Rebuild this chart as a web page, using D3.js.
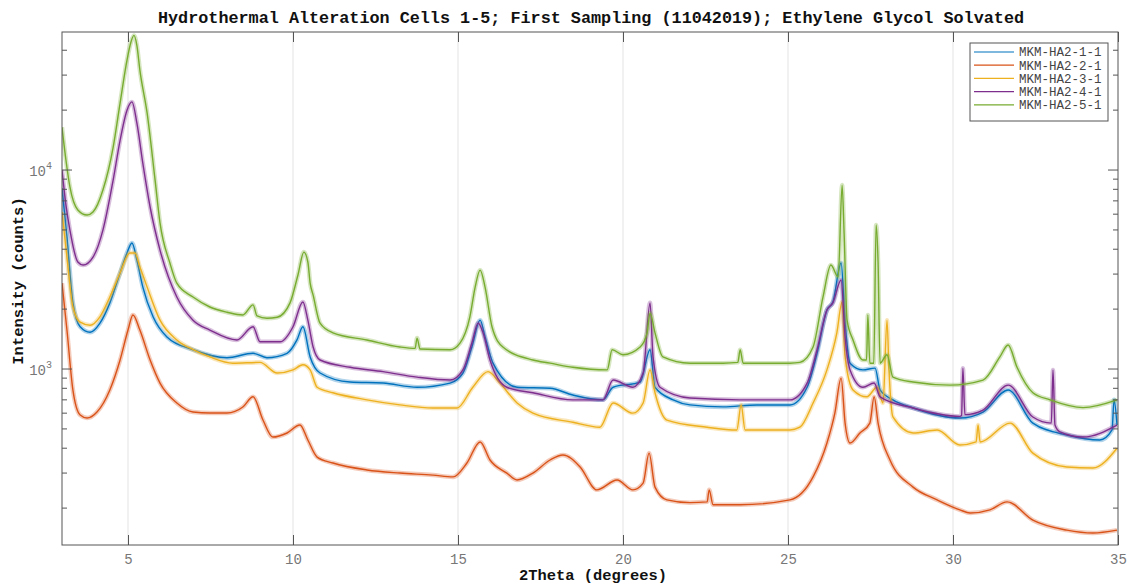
<!DOCTYPE html>
<html>
<head>
<meta charset="utf-8">
<script src="https://cdn.jsdelivr.net/npm/d3@7"></script>
<style>
  body { margin: 0; background: #fff; }
  text { font-family: "Liberation Mono", "DejaVu Sans Mono", monospace; }
</style>
</head>
<body>
<script>
const width = 1127;
const height = 585;
const margin = {top: 32, right: 9, bottom: 40, left: 62};
const innerW = width - margin.left - margin.right;
const innerH = height - margin.top - margin.bottom;

// series: [2theta, counts]
const ha1 = [[3.00,8100],[3.15,4610],[3.33,2150],[3.55,1630],[3.85,1530],[4.15,1700],[4.45,2150],[4.76,3040],[4.97,3830],[5.12,4300],[5.27,3530],[5.45,2580],[5.76,1830],[6.18,1450],[6.97,1250],[8.00,1140],[8.79,1200],[9.21,1140],[9.82,1200],[10.12,1400],[10.30,1630],[10.52,1150],[10.82,955],[11.73,860],[12.73,850],[13.76,810],[14.76,850],[15.15,955],[15.42,1290],[15.67,1760],[15.82,1450],[16.06,1070],[16.79,810],[17.79,800],[18.48,740],[19.39,700],[19.70,810],[20.52,860],[20.82,1250],[20.97,810],[21.52,700],[22.03,660],[23.03,645],[24.06,660],[25.06,660],[25.58,810],[25.88,1200],[26.18,1980],[26.36,2170],[26.61,3410],[26.73,1700],[26.88,1070],[27.27,990],[27.64,1010],[27.79,785],[28.18,700],[28.79,637],[30.21,567],[30.91,608],[31.67,785],[32.42,535],[33.45,466],[34.45,440],[34.82,494],[34.88,700],[34.97,523]];
const ha2 = [[3.00,2700],[3.15,1570],[3.33,785],[3.55,587],[3.76,567],[4.06,608],[4.45,785],[4.76,1110],[5.00,1570],[5.15,1870],[5.36,1570],[5.67,1110],[5.97,850],[6.48,675],[6.97,608],[7.48,601],[8.00,601],[8.48,644],[8.79,725],[9.09,554],[9.39,455],[9.82,477],[10.21,523],[10.45,440],[10.73,361],[11.21,337],[12.24,311],[13.24,300],[14.24,293],[14.85,287],[15.27,337],[15.67,430],[15.97,349],[16.48,300],[16.79,277],[17.27,300],[17.79,349],[18.18,370],[18.70,322],[19.21,247],[19.82,277],[20.30,247],[20.61,267],[20.79,378],[20.97,255],[21.33,220],[22.03,213],[22.55,215],[22.61,247],[22.73,208],[23.55,208],[25.06,220],[25.76,287],[26.18,425],[26.42,601],[26.61,900],[26.73,535],[26.88,425],[27.18,477],[27.48,535],[27.61,725],[27.73,535],[28.09,349],[28.79,255],[29.52,220],[30.21,196],[30.52,189],[31.12,196],[31.64,215],[32.42,174],[33.45,155],[34.24,150],[34.97,155]];
const ha3 = [[3.00,6150],[3.15,3650],[3.33,2050],[3.55,1720],[3.85,1660],[4.15,1830],[4.45,2300],[4.76,3040],[5.06,3830],[5.21,3830],[5.36,3260],[5.58,2580],[5.97,1760],[6.48,1400],[6.97,1250],[7.48,1150],[8.18,1070],[9.00,1080],[9.52,955],[10.00,990],[10.30,1050],[10.52,990],[10.73,810],[11.21,760],[12.24,700],[13.24,660],[14.24,637],[14.97,637],[15.45,810],[15.91,970],[16.27,850],[16.79,675],[17.27,600],[18.48,540],[19.30,510],[19.70,675],[20.30,600],[20.61,675],[20.82,990],[20.97,760],[21.33,554],[22.55,510],[23.45,494],[23.58,660],[23.70,494],[25.06,494],[25.36,510],[25.76,675],[26.18,990],[26.48,1520],[26.64,2170],[26.73,1150],[26.97,785],[27.39,725],[27.70,810],[27.88,675],[28.00,1760],[28.06,990],[28.18,574],[28.79,477],[29.52,494],[30.21,415],[30.70,430],[30.76,523],[30.82,430],[31.73,535],[32.42,378],[33.45,322],[34.24,318],[34.97,400]];
const ha4 = [[3.00,10000],[3.12,6670],[3.24,4990],[3.48,3450],[3.64,3330],[3.94,3650],[4.24,4990],[4.55,8900],[4.76,14100],[4.97,20000],[5.12,22000],[5.27,17200],[5.45,10800],[5.67,6520],[5.97,3960],[6.48,2300],[6.97,1760],[7.48,1570],[8.30,1400],[8.79,1630],[9.00,1370],[9.61,1370],[10.00,1630],[10.30,2170],[10.45,1760],[10.61,1290],[10.82,1110],[11.73,1020],[12.73,970],[13.76,910],[14.76,880],[15.15,990],[15.42,1350],[15.61,1700],[15.76,1520],[15.97,1110],[16.48,810],[17.27,760],[18.48,700],[19.39,700],[19.70,880],[20.30,810],[20.61,955],[20.82,2150],[20.91,1150],[21.12,810],[22.03,715],[23.55,700],[25.06,700],[25.58,850],[25.88,1250],[26.18,1980],[26.36,2150],[26.61,2800],[26.73,1450],[26.88,990],[27.27,810],[27.61,850],[27.79,725],[28.79,637],[30.21,578],[30.26,585],[30.30,1010],[30.36,590],[30.91,622],[31.67,830],[32.42,574],[32.98,535],[33.03,990],[33.09,523],[33.24,483],[33.94,455],[34.97,523]];
const ha5 = [[3.00,16400],[3.12,11200],[3.24,8220],[3.48,6300],[3.76,5940],[3.94,6150],[4.24,7930],[4.55,13000],[4.76,21700],[4.97,35700],[5.09,44000],[5.18,47500],[5.27,42200],[5.36,31800],[5.58,19300],[5.82,8920],[5.97,5420],[6.27,3410],[6.48,2700],[6.97,2300],[7.48,2050],[8.00,1930],[8.48,1870],[8.79,2100],[8.91,1850],[9.21,1800],[9.52,1820],[9.91,2150],[10.15,2970],[10.33,3870],[10.45,3450],[10.52,2700],[10.61,2350],[10.82,1700],[11.21,1520],[12.24,1400],[13.24,1290],[13.70,1270],[13.76,1430],[13.85,1260],[14.76,1250],[15.06,1350],[15.36,1830],[15.52,2580],[15.67,3140],[15.82,2580],[16.03,1630],[16.36,1290],[17.27,1110],[17.79,1070],[18.48,1020],[19.52,990],[19.67,1250],[20.00,1180],[20.52,1290],[20.73,1520],[20.82,1910],[20.97,1520],[21.21,1150],[22.03,1070],[23.03,1070],[23.48,1080],[23.55,1250],[23.64,1070],[25.06,1070],[25.36,1080],[25.76,1290],[26.06,2300],[26.30,3330],[26.52,2900],[26.64,8400],[26.70,4820],[26.79,1760],[26.97,1400],[27.27,1110],[27.38,1110],[27.42,1870],[27.48,1070],[27.60,1070],[27.67,5290],[27.73,3410],[27.79,1070],[28.00,1180],[28.18,910],[28.79,860],[29.91,830],[30.91,880],[31.42,1150],[31.67,1320],[31.94,1020],[32.42,760],[32.94,700],[33.94,640],[34.97,700]];

const seriesNames = ["MKM-HA2-1-1", "MKM-HA2-2-1", "MKM-HA2-3-1", "MKM-HA2-4-1", "MKM-HA2-5-1"];
const seriesData = [ha1, ha2, ha3, ha4, ha5];
const colors = ["#0072BD", "#D95319", "#EDB120", "#7E2F8E", "#77AC30"];

const xTicks = [5, 10, 15, 20, 25, 30, 35];
const yMajor = [1000, 10000];
const yMinor = [200, 300, 400, 500, 600, 700, 800, 900, 2000, 3000, 4000, 5000, 6000, 7000, 8000, 9000, 20000, 30000, 40000];

const titleText = "Hydrothermal Alteration Cells 1-5; First Sampling (11042019); Ethylene Glycol Solvated";

const x = d3.scaleLinear().domain([3, 35]).range([0, innerW]);
const y = d3.scaleLog().domain([130.5, 49400]).range([innerH, 0]);

const svg = d3.select("body").append("svg")
  .attr("width", width)
  .attr("height", height);

const g = svg.append("g").attr("transform", `translate(${margin.left},${margin.top})`);

// grid
g.selectAll("line.grid")
  .data(xTicks.filter(d => d < 35))
  .enter().append("line")
  .attr("class", "grid")
  .attr("x1", d => x(d)).attr("x2", d => x(d))
  .attr("y1", 0).attr("y2", innerH)
  .attr("stroke", "#e3e3e3")
  .attr("stroke-width", 1);

g.append("clipPath").attr("id", "clip")
  .append("rect").attr("width", innerW).attr("height", innerH);

const line = d3.line()
  .curve(d3.curveMonotoneX)
  .x(d => x(d[0]))
  .y(d => y(d[1]));

const plot = g.append("g").attr("clip-path", "url(#clip)");

// each trace: a soft band (the counting noise) under a thin line
seriesData.forEach((data, i) => {
  plot.append("path")
    .attr("d", line(data))
    .attr("fill", "none")
    .attr("stroke", colors[i])
    .attr("stroke-opacity", 0.3)
    .attr("stroke-width", 4.5)
    .attr("stroke-linejoin", "round");
  plot.append("path")
    .attr("d", line(data))
    .attr("fill", "none")
    .attr("stroke", colors[i])
    .attr("stroke-width", 1.4)
    .attr("stroke-linejoin", "round");
});

// axes
const axisColor = "#555";
const xBottom = g.append("g")
  .attr("transform", `translate(0,${innerH})`)
  .call(d3.axisBottom(x).tickValues(xTicks).tickSize(-10).tickPadding(9).tickFormat(d3.format("d")));
const xTop = g.append("g")
  .call(d3.axisTop(x).tickValues(xTicks).tickSize(-10).tickFormat(""));
[xBottom, xTop].forEach(a => {
  a.select(".domain").remove();
  a.selectAll("line").attr("stroke", axisColor);
  a.selectAll("text")
    .attr("fill", "#777")
    .attr("font-size", 14)
    .style("font-family", "'Liberation Mono', monospace");
});

// y ticks, log scale, both sides
[0, innerW].forEach((x0, side) => {
  const dir = side === 0 ? 1 : -1;
  g.selectAll(null).data(yMajor).enter().append("line")
    .attr("x1", x0).attr("x2", x0 + dir * 10)
    .attr("y1", d => y(d)).attr("y2", d => y(d))
    .attr("stroke", axisColor);
  g.selectAll(null).data(yMinor).enter().append("line")
    .attr("x1", x0).attr("x2", x0 + dir * 5)
    .attr("y1", d => y(d)).attr("y2", d => y(d))
    .attr("stroke", axisColor);
});

const yLab = g.selectAll("text.ylab").data(yMajor).enter().append("text")
  .attr("class", "ylab")
  .attr("x", -10)
  .attr("y", d => y(d) + 6)
  .attr("text-anchor", "end")
  .attr("fill", "#777")
  .attr("font-size", 14);
yLab.append("tspan").text("10");
yLab.append("tspan")
  .attr("dy", -7)
  .attr("font-size", 10)
  .text(d => Math.round(Math.log10(d)));

// box
g.append("rect")
  .attr("width", innerW).attr("height", innerH)
  .attr("fill", "none")
  .attr("stroke", axisColor)
  .attr("stroke-width", 1);

// title and labels
svg.append("text")
  .attr("x", margin.left + innerW / 2 + 1)
  .attr("y", 23)
  .attr("text-anchor", "middle")
  .attr("font-size", 16.8)
  .attr("font-weight", "bold")
  .attr("fill", "#111")
  .text(titleText);

svg.append("text")
  .attr("x", margin.left + innerW / 2 + 3)
  .attr("y", 580)
  .attr("text-anchor", "middle")
  .attr("font-size", 15.4)
  .attr("font-weight", "bold")
  .attr("fill", "#111")
  .text("2Theta (degrees)");

svg.append("text")
  .attr("transform", "translate(23,281) rotate(-90)")
  .attr("text-anchor", "middle")
  .attr("font-size", 15.5)
  .attr("font-weight", "bold")
  .attr("fill", "#111")
  .text("Intensity (counts)");

// legend
const legend = svg.append("g").attr("transform", "translate(970,43)");
legend.append("rect")
  .attr("width", 138).attr("height", 78)
  .attr("fill", "#fff")
  .attr("stroke", "#555");
const items = legend.selectAll("g.item").data(seriesNames).enter().append("g")
  .attr("class", "item")
  .attr("transform", (d, i) => `translate(0,${9 + i * 13.2})`);
items.append("line")
  .attr("x1", 4).attr("x2", 44)
  .attr("stroke", (d, i) => colors[i])
  .attr("stroke-width", 1.2);
items.append("text")
  .attr("x", 49)
  .attr("dy", "0.35em")
  .attr("font-size", 12.5)
  .attr("fill", "#444")
  .text(d => d);
</script>
</body>
</html>
